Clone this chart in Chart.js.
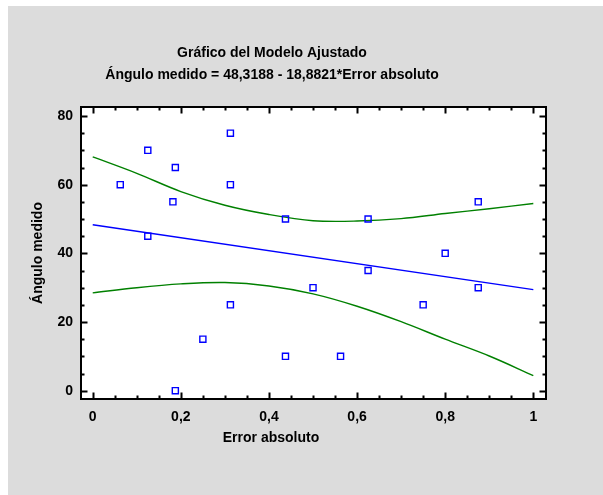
<!DOCTYPE html>
<html><head><meta charset="utf-8">
<script src="https://cdn.jsdelivr.net/npm/chart.js@4/dist/chart.umd.min.js"></script>
<style>html,body{margin:0;padding:0;background:#fff}canvas{display:block}</style>
</head><body>
<canvas id="c" width="603" height="495"></canvas>
<script>
// Observed data
const errorAbsoluto = [0.0625, 0.125, 0.125, 0.1875, 0.182, 0.1875, 0.25, 0.3125, 0.3125, 0.3125, 0.4375, 0.4375, 0.5, 0.5625, 0.625, 0.625, 0.75, 0.8, 0.875, 0.875];
const anguloMedido  = [60, 70, 45, 65, 55, 0, 15, 75, 60, 25, 50, 10, 30, 10, 50, 35, 25, 40, 55, 30];
// Fitted line endpoints
const fitX = [0, 1];
const fitY = [48.3188, 29.4367];
// Confidence limits
const limitX     = [0, 0.1, 0.2, 0.3, 0.4, 0.5, 0.6, 0.7, 0.8, 0.9, 1];
const upperLimit = [68.1, 63.3, 58.0, 54.0, 51.3, 49.5, 49.4, 50.1, 51.6, 53.0, 54.5];
const lowerLimit = [28.5, 30.0, 31.1, 31.5, 30.5, 28.2, 24.6, 20.1, 15.0, 10.1, 4.4];
// Axis ticks
const xMajorTicks = [0, 0.2, 0.4, 0.6, 0.8, 1];
const yMajorTicks = [0, 20, 40, 60, 80];
const titleLines = ["Gráfico del Modelo Ajustado", "Ángulo medido = 48,3188 - 18,8821*Error absoluto"];
const xTitle = "Error absoluto";
const yTitle = "Ángulo medido";

const toPts = (xs, ys) => xs.map((x, i) => ({x: x, y: ys[i]}));
const FONT = 'bold 14px "Liberation Sans", Arial, sans-serif';

const decor = {
  id: 'decor',
  beforeDraw(chart) {
    const ctx = chart.ctx, a = chart.chartArea;
    ctx.save();
    ctx.fillStyle = '#ffffff';
    ctx.fillRect(0, 0, chart.width, chart.height);
    ctx.fillStyle = '#dcdcdc';
    ctx.fillRect(8, 6, chart.width - 8, chart.height - 6);
    ctx.fillStyle = '#ffffff';
    ctx.fillRect(a.left, a.top, a.right - a.left, a.bottom - a.top);
    ctx.restore();
  },
  afterDraw(chart) {
    const ctx = chart.ctx, a = chart.chartArea;
    const xs = chart.scales.x, ys = chart.scales.y;
    ctx.save();
    ctx.strokeStyle = '#000';
    ctx.lineWidth = 2;
    ctx.beginPath();
    for (let i = 0; i <= 20; i++) {
      const v = i * 0.05;
      const px = Math.round(xs.getPixelForValue(v)) + 0.5;
      const len = (i % 4 === 0) ? 6.5 : 3.5;
      ctx.moveTo(px, a.bottom); ctx.lineTo(px, a.bottom - len);
      ctx.moveTo(px, a.top); ctx.lineTo(px, a.top + len);
    }
    for (let i = 0; i <= 16; i++) {
      const v = i * 5;
      const py = Math.round(ys.getPixelForValue(v)) + 0.5;
      const len = (i % 4 === 0) ? 6.5 : 3.5;
      ctx.moveTo(a.left, py); ctx.lineTo(a.left + len, py);
      ctx.moveTo(a.right, py); ctx.lineTo(a.right - len, py);
    }
    ctx.stroke();
    ctx.strokeRect(a.left, a.top, a.right - a.left, a.bottom - a.top);
    ctx.fillStyle = '#000';
    ctx.font = FONT;
    ctx.textAlign = 'center';
    ctx.textBaseline = 'alphabetic';
    ctx.fillText(titleLines[0], 272, 57);
    ctx.fillText(titleLines[1], 272, 79);
    ctx.fillText(xTitle, 271, 442);
    ctx.translate(42, (a.top + a.bottom) / 2);
    ctx.rotate(-Math.PI / 2);
    ctx.fillText(yTitle, 0, 0);
    ctx.restore();
  }
};

const fmt = v => String(Math.round(v * 10) / 10).replace('.', ',');

new Chart(document.getElementById('c'), {
  type: 'scatter',
  data: {
    datasets: [
      { data: toPts(errorAbsoluto, anguloMedido), pointStyle: 'rect', pointRadius: 4.3, pointHoverRadius: 4.3,
        borderColor: '#0000ff', backgroundColor: 'rgba(0,0,0,0)', pointBorderWidth: 1.4, showLine: false },
      { data: toPts(fitX, fitY), showLine: true, pointRadius: 0, borderColor: '#0000ff', borderWidth: 1.4 },
      { data: toPts(limitX, upperLimit), showLine: true, pointRadius: 0, borderColor: '#008000', borderWidth: 1.4, tension: 0.35 },
      { data: toPts(limitX, lowerLimit), showLine: true, pointRadius: 0, borderColor: '#008000', borderWidth: 1.4, tension: 0.35 }
    ]
  },
  options: {
    responsive: false,
    animation: false,
    devicePixelRatio: 1,
    layout: { padding: { left: 8, top: 107, right: 57, bottom: 66 } },
    plugins: { legend: { display: false }, tooltip: { enabled: false }, title: { display: false } },
    scales: {
      x: {
        type: 'linear', min: -0.0266, max: 1.0288,
        afterFit: s => { s.height = 30; },
        afterBuildTicks: s => { s.ticks = xMajorTicks.map(v => ({value: v})); },
        grid: { display: false, drawTicks: false },
        border: { display: false },
        ticks: { color: '#000', font: { family: '"Liberation Sans", Arial, sans-serif', size: 14, weight: 'bold' }, padding: 10, maxRotation: 0, autoSkip: false, callback: v => fmt(v) }
      },
      y: {
        type: 'linear', min: -2.42, max: 82.62,
        afterFit: s => { s.width = 73; },
        afterBuildTicks: s => { s.ticks = yMajorTicks.map(v => ({value: v})); },
        grid: { display: false, drawTicks: false },
        border: { display: false },
        ticks: { color: '#000', font: { family: '"Liberation Sans", Arial, sans-serif', size: 14, weight: 'bold' }, padding: 8, autoSkip: false, callback: v => String(v) }
      }
    }
  },
  plugins: [decor]
});
</script>
</body></html>
